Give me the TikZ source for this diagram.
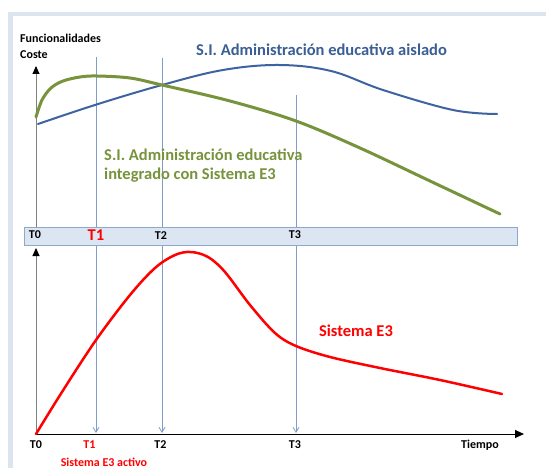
\documentclass[tikz,border=0pt]{standalone}
\usepackage{fontspec}
\setmainfont{Carlito}
\usetikzlibrary{arrows.meta}
\definecolor{frameblue}{HTML}{DCE4EE}
\definecolor{vlineblue}{HTML}{7F9DC6}
\definecolor{bandfill}{HTML}{DCE6F2}
\definecolor{bandline}{HTML}{8EA8CC}
\definecolor{curveblue}{HTML}{3D64A0}
\definecolor{textblue}{HTML}{3A5F94}
\definecolor{curvegreen}{HTML}{77933C}
\definecolor{axisgray}{HTML}{808080}
\begin{document}
\begin{tikzpicture}[x=1pt,y=-1pt,
  every node/.style={font=\bfseries, inner sep=0pt},
  vline/.style={vlineblue, line width=0.8pt, -{Straight Barb[length=5pt,width=6pt]}},
  yaxis/.style={axisgray, line width=0.9pt, -{Triangle[length=8pt,width=7pt,fill=black,color=black]}},
  xaxis/.style={black, line width=0.9pt, -{Triangle[length=9pt,width=8pt]}},
  small/.style={font=\fontsize{12}{14}\selectfont\bfseries},
  big/.style={font=\fontsize{16.5}{19}\selectfont\bfseries}]
\useasboundingbox (0,0) rectangle (546,468);
\fill[white] (0,0) rectangle (546,468);
% window frame
\draw[frameblue, line width=4.5pt] (10.5,480) -- (10.5,14) -- (560,14);
% vertical time lines
\coordinate (t1top) at (96,57);   \coordinate (t1bot) at (96,433);
\coordinate (t2top) at (162,58);  \coordinate (t2bot) at (162,433);
\coordinate (t3top) at (296,95);  \coordinate (t3bot) at (296,433);
\draw[vline] (t1top) -- (t1bot);
\draw[vline] (t2top) -- (t2bot);
\draw[vline] (t3top) -- (t3bot);
% axes
\coordinate (origin) at (36,434);
\coordinate (ytop) at (36,66);
\coordinate (ybandtop) at (36,227);
\coordinate (ybandbot) at (36,248);
\coordinate (xend) at (524,434);
\draw[yaxis] (ybandtop) -- (ytop);
\draw[yaxis] (origin) -- (ybandbot);
\draw[xaxis] (origin) -- (xend);
% curves
\draw[curveblue, line width=2pt, line cap=round] plot[smooth, tension=0.6] coordinates
  {(38,124) (96.5,104.5) (162,85) (223,70) (279,65) (331,71) (383,90) (453,110) (497,114)};
\draw[curvegreen, line width=3pt, line cap=round] plot[smooth, tension=0.55] coordinates
  {(36,117) (42,100) (51,88) (63,81) (80,77) (97,76) (130,78) (162,85) (230,101) (296,121) (360,148) (430,181) (500,214)};
\draw[red, line width=2.5pt, line cap=round] plot[smooth, tension=0.55] coordinates
  {(36,434) (62,392) (96,340) (130,295) (155,268) (175,255) (191,252) (208,257) (225,272) (250,305) (275,333) (296,346) (330,357) (380,368) (440,380) (502,394)};
% band
\node[fill=bandfill, draw=bandline, line width=0.8pt, minimum width=493pt, minimum height=18pt] (band) at (270.5,236) {};
\node[small] (bt0) at (35,235) {T0};
\node[big, red] (bt1) at (96,235) {T1};
\node[small] (bt2) at (161,236) {T2};
\node[small] (bt3) at (295,235) {T3};
% axis labels
\node[small, anchor=west] (funcl) at (20,38) {Funcionalidades};
\node[small, anchor=west] (costel) at (20,55) {Coste};
\node[small] (xt0) at (36,445) {T0};
\node[small, red] (xt1) at (89.5,445) {T1};
\node[small] (xt2) at (160.5,445) {T2};
\node[small] (xt3) at (295,445) {T3};
\node[small] (tiempo) at (480,445) {Tiempo};
\node[small, red] (activo) at (104,462) {Sistema E3 activo};
% curve labels
\node[big, textblue] (aislado) at (321.5,50) {S.I. Administración educativa aislado};
\node[big, curvegreen, align=left, anchor=west] (integrado) at (104,166) {S.I. Administración educativa\\integrado con Sistema E3};
\node[big, red] (sise3) at (356,331) {Sistema E3};
\end{tikzpicture}
\end{document}
